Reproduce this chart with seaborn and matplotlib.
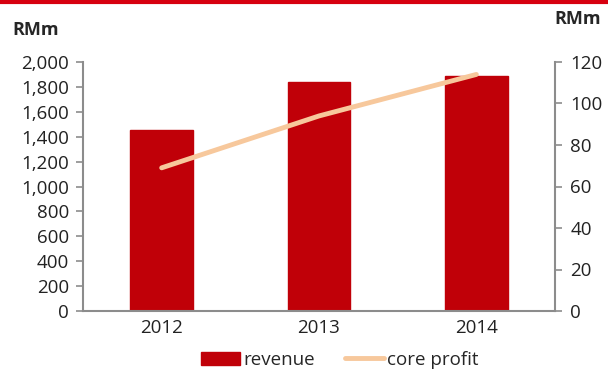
import matplotlib
matplotlib.use("Agg")
import matplotlib.pyplot as plt
import seaborn as sns
import pandas as pd
from matplotlib.ticker import FuncFormatter
from matplotlib.patches import Patch
from matplotlib.lines import Line2D

years = ["2012", "2013", "2014"]
revenue = [1452, 1840, 1885]
core_profit = [69, 94, 114]

sns.set_theme(style="white")
plt.rcParams['font.family'] = ['Open Sans', 'DejaVu Sans']

BAR = "#C00008"
LINE = "#F7C89C"
AX = "#8C8C8C"
FS = 13.5

fig = plt.figure(figsize=(6.08, 3.70), dpi=100)
ax = fig.add_axes([83/608, 1 - 311/370, (555-83)/608, (311-62)/370])

df = pd.DataFrame({"year": years, "revenue": revenue, "core": core_profit})
sns.barplot(data=df, x="year", y="revenue", color=BAR, width=0.4, ax=ax,
            saturation=1, edgecolor=BAR)
ax.set_ylim(0, 2000)
ax.set_xlim(-0.5, 2.5)
ax.set_yticks(range(0, 2001, 200))
ax.yaxis.set_major_formatter(FuncFormatter(lambda v, p: f"{int(v):,}"))
ax.set_xlabel("")
ax.set_ylabel("")

ax2 = ax.twinx()
sns.lineplot(x=[0, 1, 2], y=core_profit, ax=ax2, color=LINE, linewidth=3.5,
             solid_capstyle="round")
ax2.set_ylim(0, 120)
ax2.set_yticks(range(0, 121, 20))
ax2.set_xlim(-0.5, 2.5)

for a in (ax, ax2):
    for s in a.spines.values():
        s.set_visible(False)
    a.tick_params(colors="#222222", labelsize=FS, length=5, width=1.2, color=AX)
ax.spines["left"].set_visible(True)
ax.spines["left"].set_color(AX)
ax.spines["left"].set_linewidth(1.5)
ax.spines["bottom"].set_visible(True)
ax.spines["bottom"].set_color(AX)
ax.spines["bottom"].set_linewidth(1.5)
ax2.spines["right"].set_visible(True)
ax2.spines["right"].set_color(AX)
ax2.spines["right"].set_linewidth(1.5)
ax.tick_params(axis="x", length=0, pad=6)
ax.tick_params(axis="y", left=True, pad=5)
ax2.tick_params(axis="y", right=True, pad=6)

fig.text(12/608, 1 - 30/370, "RMm", fontsize=13, fontweight="bold", va="center", ha="left")
fig.text(601/608, 1 - 19/370, "RMm", fontsize=13, fontweight="bold", va="center", ha="right")

# top red rule
fig.add_artist(Line2D([0, 1], [1 - 1.5/370, 1 - 1.5/370], color="#D7000F", linewidth=3,
                      transform=fig.transFigure))

handles = [Patch(facecolor=BAR, edgecolor=BAR), Line2D([], [], color=LINE, linewidth=3.5)]
fig.legend(handles, ["revenue", "core profit"], loc="center", bbox_to_anchor=(340/608, 1 - 360/370),
           ncol=2, frameon=False, fontsize=FS, handlelength=2.05, handletextpad=0.2,
           columnspacing=1.6, borderaxespad=0, handleheight=0.7)

fig.savefig("out.png", dpi=100)
